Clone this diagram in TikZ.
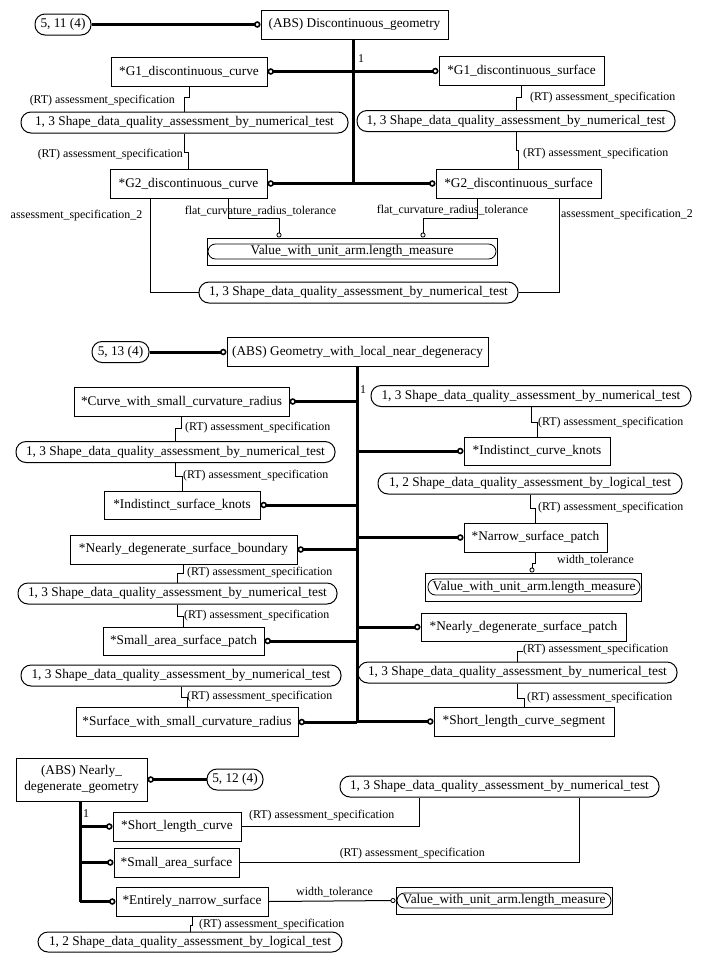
\documentclass[tikz,border=0pt]{standalone}
\usepackage{fontspec}
\setmainfont{Liberation Serif}
\usetikzlibrary{arrows.meta}
\newcommand{\mainsize}{\fontsize{13.3}{15.6}\selectfont}
\newcommand{\labsize}{\fontsize{11.9}{14}\selectfont}

\tikzset{
  ent/.style={draw, line width=1pt, inner sep=0pt, minimum height=29pt, font=\mainsize},
  pill/.style={draw, line width=1pt, rounded corners=10pt, inner sep=0pt, minimum height=21pt, font=\mainsize},
  valouter/.style={draw, line width=1pt, inner sep=0pt, minimum height=27pt},
  valpill/.style={draw, line width=0.8pt, rounded corners=7.5pt, inner sep=0pt, minimum height=15pt, font=\mainsize},
  lbl/.style={inner sep=0pt, font=\labsize},
  ln/.style={line width=1pt},
  supline/.style={line width=3pt},
  ringend/.style={-{Circle[open, length=6.5pt, width=6.5pt, line width=1.6pt]}},
  ringstart/.style={{Circle[open, length=6.5pt, width=6.5pt, line width=1.6pt]}-},
  smallring/.style={-{Circle[open, length=5pt, width=5pt, line width=0.8pt]}},
}

\begin{document}
\begin{tikzpicture}[x=1pt, y=-1pt]
\useasboundingbox (0,0) rectangle (707,962);

% ---------------- Discontinuous_geometry ----------------
\node[pill, minimum width=56pt] (n511) at (63,24.5) {5, 11 (4)};
\node[ent, minimum width=187pt] (abs1) at (354.5,24.5) {(ABS) Discontinuous\_geometry};
\node[ent, minimum width=156pt] (g1c) at (189,71.5) {*G1\_discontinuous\_curve};
\node[ent, minimum width=165pt] (g1s) at (521.5,71) {*G1\_discontinuous\_surface};
\node[pill, minimum width=327pt] (p1) at (184.5,122.5) {1, 3 Shape\_data\_quality\_assessment\_by\_numerical\_test};
\node[pill, minimum width=318pt] (p2) at (516,121) {1, 3 Shape\_data\_quality\_assessment\_by\_numerical\_test};
\node[ent, minimum width=157pt] (g2c) at (188.5,183.5) {*G2\_discontinuous\_curve};
\node[ent, minimum width=165pt] (g2s) at (518.5,183.5) {*G2\_discontinuous\_surface};
\node[valouter, minimum width=290pt] (val1) at (352,251.5) {};
\node[valpill, minimum width=288pt] (val1t) at (352,251.5) {Value\_with\_unit\_arm.length\_measure};
\node[pill, minimum width=319pt] (p3) at (358.5,292.5) {1, 3 Shape\_data\_quality\_assessment\_by\_numerical\_test};

\coordinate (t1) at (353,0);
\draw[supline, ringend] (n511.east) -- (abs1.west);
\draw[supline] (abs1.south -| t1) -- (g2c.east -| t1);
\draw[supline, ringend] (g1c.east -| t1) -- (g1c.east);
\draw[supline, ringend] (g1s.west -| t1) -- (g1s.west);
\draw[supline, ringend] (g2c.east -| t1) -- (g2c.east);
\draw[supline, ringend] (g2s.west -| t1) -- (g2s.west);
\node[lbl] (one1) at (361,59) {1};

\draw[ln] (g1c.south) -- (g1c.south |- 0,97) -| (p1.north);
\node[lbl, anchor=east] (l1) at (175,101) {(RT) assessment\_specification};
\draw[ln] (p1.south) -- (p1.south |- 0,152) -| (g2c.north);
\node[lbl, anchor=east] (l2) at (183,155) {(RT) assessment\_specification};
\draw[ln] (g1s.south) -- (g1s.south |- 0,97) -| (p2.north);
\node[lbl, anchor=west] (l3) at (530,98) {(RT) assessment\_specification};
\draw[ln] (p2.south) -- (p2.south |- 0,150) -| (g2s.north);
\node[lbl, anchor=west] (l4) at (523,154) {(RT) assessment\_specification};

\draw[ln, smallring] (g2c.south -| 228,0) -- (228,218) -| (val1.north -| 279,0);
\node[lbl] (l5) at (260.5,211) {flat\_curvature\_radius\_tolerance};
\draw[ln, smallring] (g2s.south -| 477,0) -- (477,218) -| (val1.north -| 423,0);
\node[lbl] (l6) at (452.5,210) {flat\_curvature\_radius\_tolerance};

\draw[ln] (g2c.south -| 150,0) |- (p3.west);
\node[lbl] (l7) at (76.5,216) {assessment\_specification\_2};
\draw[ln] (g2s.south -| 559,0) |- (p3.east);
\node[lbl, anchor=west] (l8) at (561,215) {assessment\_specification\_2};

% ---------------- Geometry_with_local_near_degeneracy ----------------
\node[pill, minimum width=57pt] (n513) at (120.5,352) {5, 13 (4)};
\node[ent, minimum width=261pt] (abs2) at (357.5,352) {(ABS) Geometry\_with\_local\_near\_degeneracy};
\node[ent, minimum width=215pt] (cwsc) at (181.5,401.5) {*Curve\_with\_small\_curvature\_radius};
\node[pill, minimum width=319pt] (p4) at (175.5,452) {1, 3 Shape\_data\_quality\_assessment\_by\_numerical\_test};
\node[ent, minimum width=156pt, minimum height=28pt] (isk) at (182,505) {*Indistinct\_surface\_knots};
\node[pill, minimum width=320pt] (p5) at (531,396) {1, 3 Shape\_data\_quality\_assessment\_by\_numerical\_test};
\node[ent, minimum width=146pt, minimum height=28pt] (ick) at (537,451) {*Indistinct\_curve\_knots};
\node[pill, minimum width=304pt] (p6) at (530,483.5) {1, 2 Shape\_data\_quality\_assessment\_by\_logical\_test};
\node[ent, minimum width=143pt] (nsp) at (535.5,537.5) {*Narrow\_surface\_patch};
\node[valouter, minimum width=216pt, minimum height=28pt] (val2) at (533,587) {};
\node[valpill, minimum width=212pt, minimum height=16pt] (val2t) at (534,587) {Value\_with\_unit\_arm.length\_measure};
\node[ent, minimum width=205pt, minimum height=28pt] (ndsp) at (523.5,627) {*Nearly\_degenerate\_surface\_patch};
\node[pill, minimum width=319pt] (p7) at (517.5,672.5) {1, 3 Shape\_data\_quality\_assessment\_by\_numerical\_test};
\node[ent, minimum width=180pt] (slcs) at (524,721.5) {*Short\_length\_curve\_segment};
\node[ent, minimum width=227pt] (ndsb) at (183.5,549.5) {*Nearly\_degenerate\_surface\_boundary};
\node[pill, minimum width=319pt] (p8) at (177.5,593.5) {1, 3 Shape\_data\_quality\_assessment\_by\_numerical\_test};
\node[ent, minimum width=161pt, minimum height=28pt] (sasp) at (183.5,641) {*Small\_area\_surface\_patch};
\node[pill, minimum width=320pt] (p9) at (181,675.5) {1, 3 Shape\_data\_quality\_assessment\_by\_numerical\_test};
\node[ent, minimum width=222pt] (swscr) at (187,722) {*Surface\_with\_small\_curvature\_radius};

\coordinate (t2) at (357,0);
\draw[supline, ringend] (n513.east) -- (abs2.west);
\draw[supline] (abs2.south -| t2) -- (swscr.east -| t2);
\node[lbl] (one2) at (363,390) {1};
\draw[supline, ringend] (cwsc.east -| t2) -- (cwsc.east);
\draw[supline, ringend] (isk.east -| t2) -- (isk.east);
\draw[supline, ringend] (ndsb.east -| t2) -- (ndsb.east);
\draw[supline, ringend] (sasp.east -| t2) -- (sasp.east);
\draw[supline, ringend] (swscr.east -| t2) -- (swscr.east);
\draw[supline, ringend] (ick.west -| t2) -- (ick.west);
\draw[supline, ringend] (nsp.west -| t2) -- (nsp.west);
\draw[supline, ringend] (ndsp.west -| t2) -- (ndsp.west);
\draw[supline, ringend] (slcs.west -| t2) -- (slcs.west);

\draw[ln] (cwsc.south) -- (cwsc.south |- 0,428) -| (p4.north);
\node[lbl, anchor=west] (l9) at (185,428) {(RT) assessment\_specification};
\draw[ln] (p4.south) -- (p4.south |- 0,476) -| (isk.north);
\node[lbl, anchor=west] (l10) at (183,476) {(RT) assessment\_specification};
\draw[ln] (p5.south) -- (p5.south |- 0,422) -| (ick.north);
\node[lbl, anchor=west] (l11) at (538,423) {(RT) assessment\_specification};
\draw[ln] (p6.south) -- (p6.south |- 0,508) -| (nsp.north);
\node[lbl, anchor=west] (l12) at (538,508) {(RT) assessment\_specification};
\draw[ln, smallring] (nsp.south) -- (nsp.south |- 0,563) -| (val2.north -| 532,0);
\node[lbl, anchor=west] (l13) at (557,560) {width\_tolerance};
\coordinate (p7tail) at (523,651);
\draw[ln] (p7.north) |- (p7tail);
\node[lbl, anchor=west] (l14) at (523,650) {(RT) assessment\_specification};
\draw[ln] (p7.south) -- (p7.south |- 0,698) -| (slcs.north);
\node[lbl, anchor=west] (l15) at (527,698) {(RT) assessment\_specification};
\draw[ln] (ndsb.south) -- (ndsb.south |- 0,573) -| (p8.north);
\node[lbl, anchor=west] (l16) at (187,573) {(RT) assessment\_specification};
\draw[ln] (p8.south) -- (p8.south |- 0,616) -| (sasp.north);
\node[lbl, anchor=west] (l17) at (184,616) {(RT) assessment\_specification};
\draw[ln] (p9.south) -- (p9.south |- 0,697) -| (swscr.north);
\node[lbl, anchor=west] (l18) at (187,697) {(RT) assessment\_specification};

% ---------------- Nearly_degenerate_geometry ----------------
\node[ent, minimum width=131pt, minimum height=43pt, align=center] (abs3) at (81.5,779.5) {(ABS) Nearly\_\\degenerate\_geometry};
\node[pill, minimum width=56pt] (n512) at (235,779.5) {5, 12 (4)};
\node[ent, minimum width=128pt] (slc) at (177,826.5) {*Short\_length\_curve};
\node[ent, minimum width=125pt] (sas) at (176.5,862.5) {*Small\_area\_surface};
\node[ent, minimum width=152pt] (ens) at (192,901.5) {*Entirely\_narrow\_surface};
\node[pill, minimum width=319pt] (p10) at (499.5,786.5) {1, 3 Shape\_data\_quality\_assessment\_by\_numerical\_test};
\node[valouter, minimum width=216pt] (val3) at (504,900.5) {};
\node[valpill, minimum width=214pt] (val3t) at (504,900.5) {Value\_with\_unit\_arm.length\_measure};
\node[pill, minimum width=304pt, minimum height=20pt] (p11) at (190,942) {1, 2 Shape\_data\_quality\_assessment\_by\_logical\_test};

\coordinate (t3) at (80,0);
\draw[supline, ringstart] (abs3.east) -- (n512.west);
\draw[supline] (abs3.south -| t3) -- (ens.west -| t3);
\node[lbl] (one3) at (86,814) {1};
\draw[supline, ringend] (slc.west -| t3) -- (slc.west);
\draw[supline, ringend] (sas.west -| t3) -- (sas.west);
\draw[supline, ringend] (ens.west -| t3) -- (ens.west);

\draw[ln] (slc.east) -| (p10.south -| 419,0);
\node[lbl, anchor=west] (l19) at (249,816) {(RT) assessment\_specification};
\draw[ln] (sas.east) -| (p10.south -| 579,0);
\node[lbl, anchor=east] (l20) at (485,854) {(RT) assessment\_specification};
\draw[ln, smallring] (ens.east) -- (val3.west);
\node[lbl, anchor=west] (l21) at (296,892) {width\_tolerance};
\draw[ln] (ens.south) -- (ens.south |- 0,925) -| (p11.north);
\node[lbl, anchor=west] (l22) at (199,925) {(RT) assessment\_specification};

\end{tikzpicture}
\end{document}
